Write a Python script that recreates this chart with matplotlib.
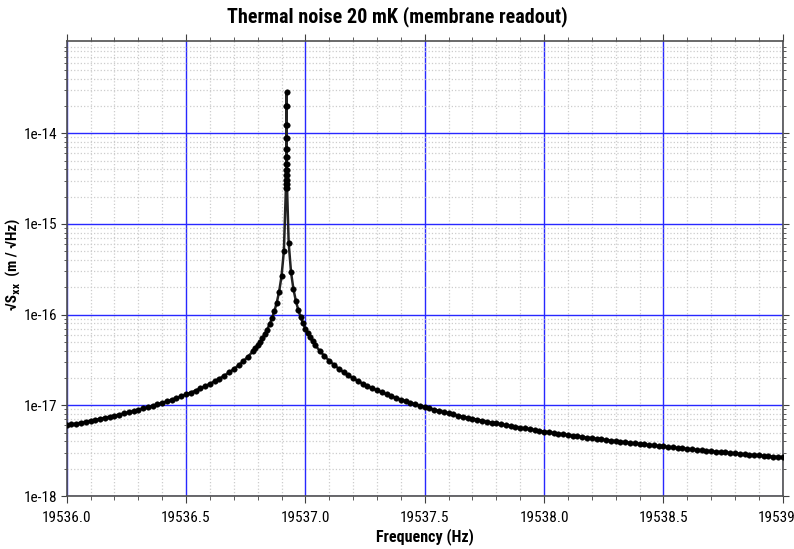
import numpy as np
import matplotlib
matplotlib.use("Agg")
import matplotlib.pyplot as plt
from matplotlib import ticker

plt.rcParams['font.family'] = ['Roboto Condensed', 'Liberation Sans Narrow', 'DejaVu Sans Condensed',
                               'Liberation Sans', 'DejaVu Sans']

# frequency sampling grids (Hz)
freq_left = np.round(19536.00 + 0.02 * np.arange(40), 4)      # 19536.00 .. 19536.78
freq_near_left = np.round(19536.79 + 0.01 * np.arange(13), 4)  # 19536.79 .. 19536.91
freq_peak = np.round(19536.921 + 0.0002 * np.arange(-11, 12), 5)
freq_near_right = np.round(19536.93 + 0.01 * np.arange(12), 4)  # 19536.93 .. 19537.04
freq_right = np.round(19537.06 + 0.02 * np.arange(98), 4)     # 19537.06 .. 19539.00

# sqrt(Sxx) in units of 1e-18 m/sqrt(Hz)
asd_left = [6.03, 6.16, 6.30, 6.45, 6.60, 6.76, 6.93, 7.11, 7.29, 7.49,
            7.70, 7.92, 8.15, 8.40, 8.66, 8.94, 9.24, 9.55, 9.89, 10.26,
            10.65, 11.08, 11.54, 12.04, 12.59, 13.18, 13.84, 14.57, 15.37, 16.28,
            17.29, 18.44, 19.75, 21.26, 23.03, 25.11, 27.61, 30.66, 34.47, 39.36]
asd_near_left = [42.4, 45.9, 50.0, 55.0, 61.0, 68.5, 78.2, 91.0, 108.8, 135.4,
                 179.0, 264.0, 505.0]
asd_peak = [2520, 2760, 3070, 3440, 3930, 4560, 5450, 6740, 8790, 12460, 19800,
            28300,
            19800, 12460, 8790, 6740, 5450, 4560, 3930, 3440, 3070, 2760, 2520]
asd_near_right = [617.0, 292.0, 191.0, 142.3, 113.3, 94.1, 80.4, 70.3, 62.4, 56.1,
                  50.9, 46.6]
asd_right = [39.93, 34.91, 31.01, 27.89, 25.34, 23.22, 21.43, 19.89, 18.56, 17.40,
             16.37, 15.46, 14.64, 13.91, 13.25, 12.64, 12.09, 11.59, 11.12, 10.69,
             10.30, 9.93, 9.59, 9.27, 8.97, 8.69, 8.42, 8.17, 7.94, 7.72,
             7.51, 7.31, 7.13, 6.95, 6.78, 6.62, 6.46, 6.31, 6.17, 6.04,
             5.91, 5.79, 5.67, 5.56, 5.45, 5.34, 5.24, 5.14, 5.05, 4.96,
             4.87, 4.79, 4.71, 4.63, 4.55, 4.48, 4.41, 4.34, 4.27, 4.21,
             4.15, 4.08, 4.03, 3.97, 3.91, 3.86, 3.80, 3.75, 3.70, 3.65,
             3.61, 3.56, 3.52, 3.47, 3.43, 3.39, 3.35, 3.31, 3.27, 3.23,
             3.19, 3.16, 3.12, 3.09, 3.05, 3.02, 2.99, 2.95, 2.92, 2.89,
             2.86, 2.83, 2.80, 2.78, 2.75, 2.72, 2.70, 2.67]

x_ticks = [19536.0, 19536.5, 19537.0, 19537.5, 19538.0, 19538.5, 19539.0]
x_tick_labels = ["19536.0", "19536.5", "19537.0", "19537.5", "19538.0", "19538.5", "19539.0"]
y_ticks = [1e-18, 1e-17, 1e-16, 1e-15, 1e-14]
y_tick_labels = ["1e-18", "1e-17", "1e-16", "1e-15", "1e-14"]

freq = np.concatenate([freq_left, freq_near_left, freq_peak, freq_near_right, freq_right])
asd = np.concatenate([asd_left, asd_near_left, asd_peak, asd_near_right, asd_right]) * 1e-18
order = np.argsort(freq, kind="stable")
freq, asd = freq[order], asd[order]

fig = plt.figure(figsize=(7.94, 5.49), dpi=100)
ax = fig.add_axes([0.084, 0.0965, 0.9018, 0.8288])

ax.plot(freq, asd, '-', color='#222222', lw=1.8, marker='o', ms=4.0,
        mfc='black', mec='black', mew=0.3, zorder=3)

ax.set_yscale('log')
ax.set_xlim(19536.0, 19539.0)
ax.set_ylim(1e-18, 1.04e-13)

ax.xaxis.set_major_locator(ticker.FixedLocator(x_ticks))
ax.xaxis.set_major_formatter(ticker.FixedFormatter(x_tick_labels))
ax.xaxis.set_minor_locator(ticker.MultipleLocator(0.1))
ax.yaxis.set_major_locator(ticker.FixedLocator(y_ticks))
ax.yaxis.set_major_formatter(ticker.FixedFormatter(y_tick_labels))
ax.yaxis.set_minor_locator(ticker.LogLocator(base=10, subs=np.arange(2, 10)))
ax.yaxis.set_minor_formatter(ticker.NullFormatter())

ax.grid(True, which='minor', color='#cccccc', ls=':', lw=0.9, zorder=0)
ax.grid(True, which='major', color='#2828ff', ls='-', lw=1.0, zorder=1)
ax.set_axisbelow(True)

for s in ax.spines.values():
    s.set_color('#505050')
    s.set_linewidth(1.2)

ax.tick_params(which='both', direction='out', colors='#404040', top=True, right=True,
               labelcolor='black', labelsize=11)
ax.tick_params(axis='x', which='major', length=5, pad=6)
ax.tick_params(axis='x', which='minor', length=3)
ax.tick_params(axis='y', which='major', length=4, pad=3)
ax.tick_params(axis='y', which='minor', length=2.5)

fig.text(0.5, 0.97, "Thermal noise 20 mK (membrane readout)", ha='center', va='center',
         fontsize=14.5, fontweight='bold')
ax.set_xlabel("Frequency (Hz)", fontsize=11.5, fontweight='bold', labelpad=2)
ax.set_ylabel("√Sₓₓ  (m / √Hz)", fontsize=11, fontweight='bold')
ax.yaxis.set_label_coords(-0.064, 0.51)

fig.savefig("out.png", dpi=100, facecolor='white')
